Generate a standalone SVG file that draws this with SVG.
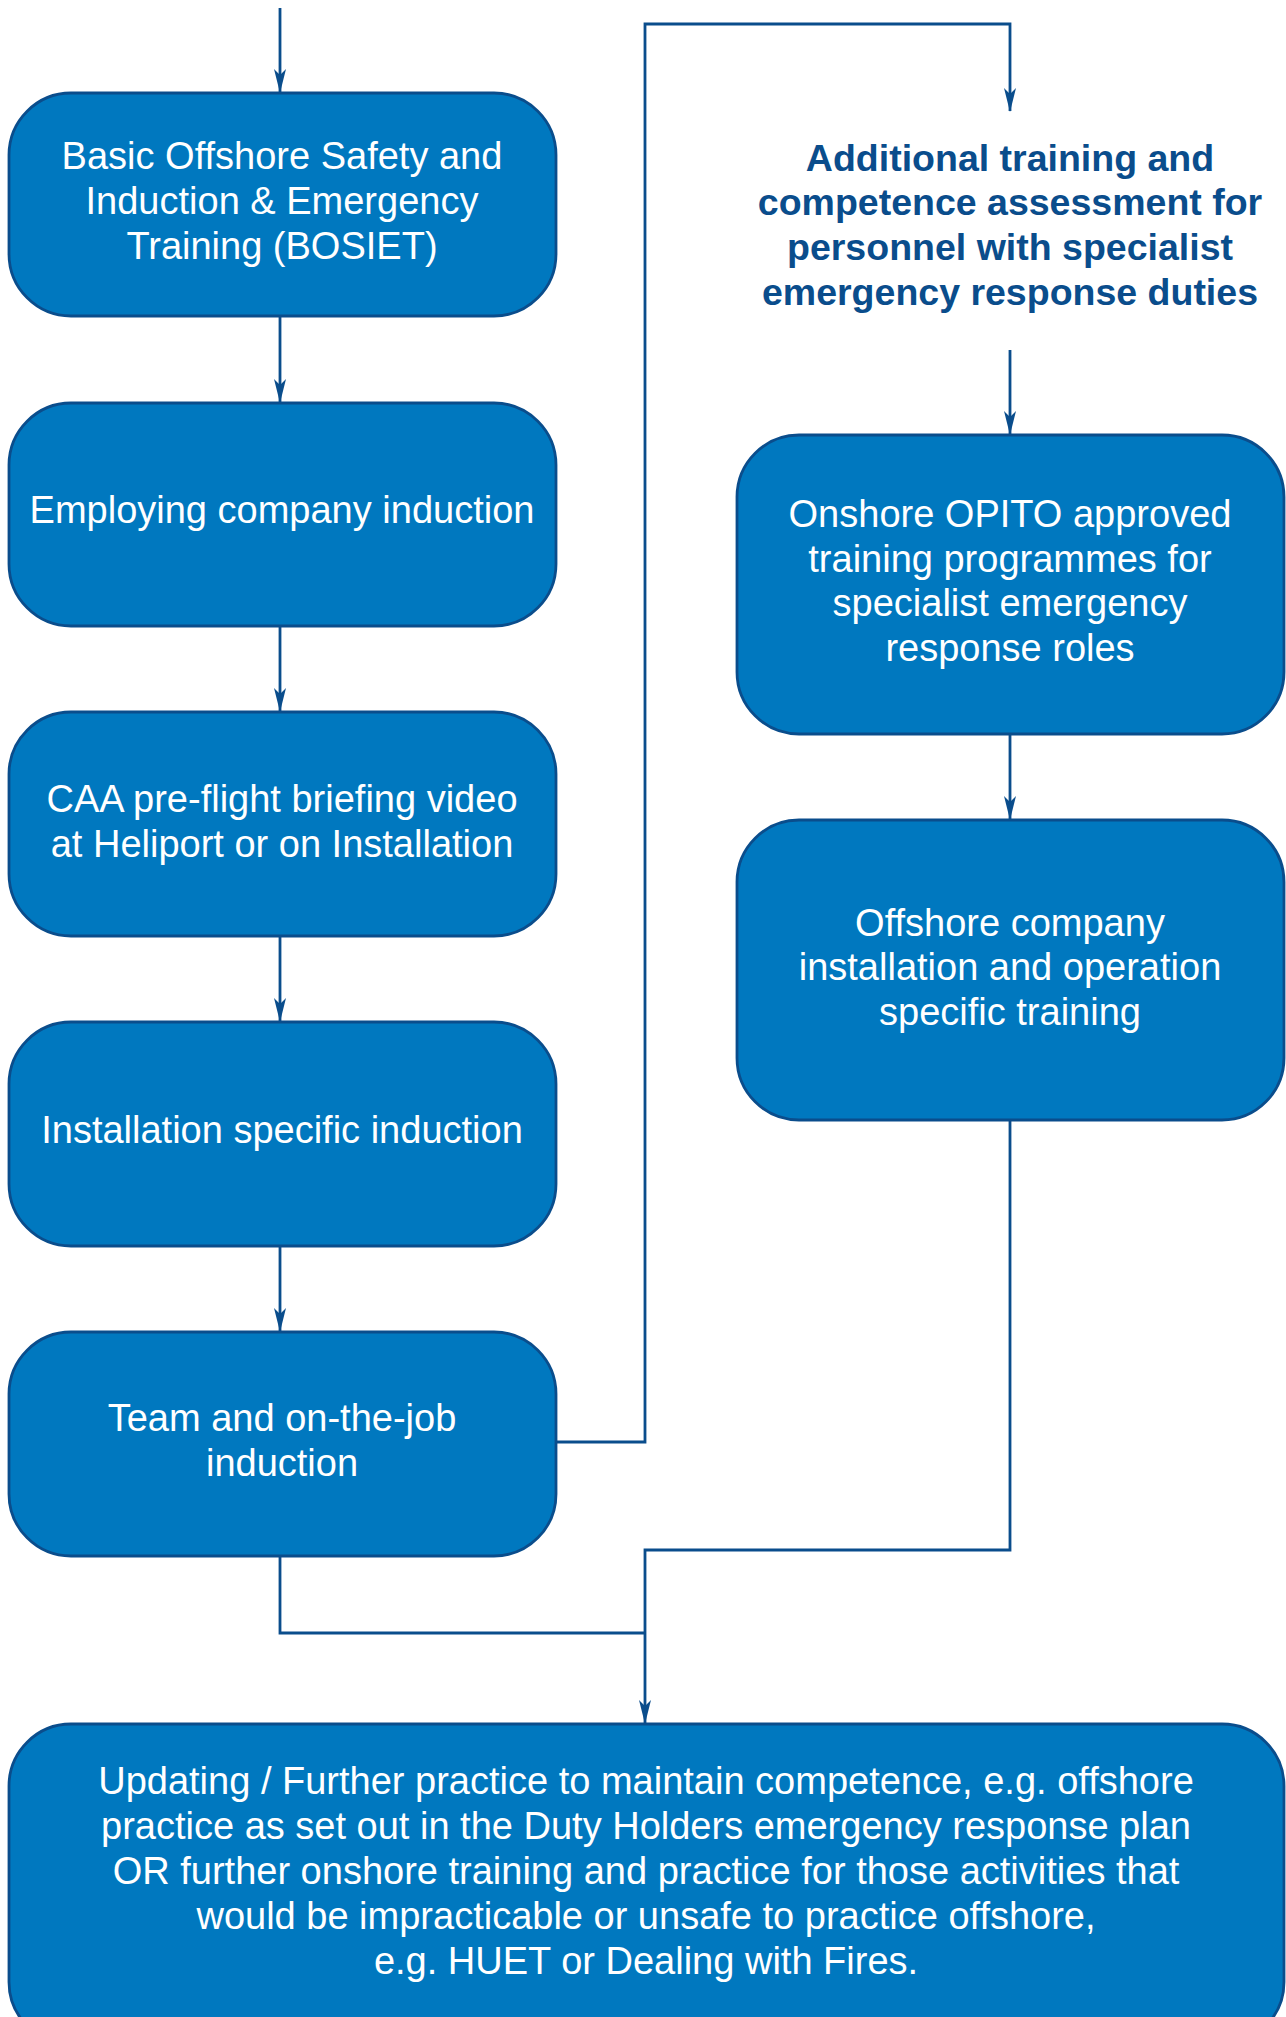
<svg xmlns="http://www.w3.org/2000/svg" width="1286" height="2017" viewBox="0 0 1286 2017">
<defs>
<style>
.box{fill:#0078bf;stroke:#0a4d8c;stroke-width:2.8}
.t{font-family:"Liberation Sans",Arial,sans-serif;font-size:38px;fill:#ffffff;text-anchor:middle}
.h{font-family:"Liberation Sans",Arial,sans-serif;font-size:37.5px;font-weight:bold;fill:#0a4d8c;text-anchor:middle}
.c{fill:none;stroke:#0a4d8c;stroke-width:2.8}
</style>
<marker id="arr" viewBox="-25 -8 27 16" refX="0" refY="0" markerWidth="27" markerHeight="16" markerUnits="userSpaceOnUse" orient="auto">
<path d="M1,0 L-23,-6 L-17,0 L-23,6 Z" fill="#0a4d8c"/>
</marker>
</defs>
<rect width="1286" height="2017" fill="#ffffff"/>
<g id="connectors">
<path class="c" d="M280,8 V92" marker-end="url(#arr)"/>
<path class="c" d="M280,317 V402" marker-end="url(#arr)"/>
<path class="c" d="M280,627 V711" marker-end="url(#arr)"/>
<path class="c" d="M280,937 V1021" marker-end="url(#arr)"/>
<path class="c" d="M280,1247 V1331" marker-end="url(#arr)"/>
<path class="c" d="M556,1442 H645 V24 H1010 V111" marker-end="url(#arr)"/>
<path class="c" d="M1010,350 V434" marker-end="url(#arr)"/>
<path class="c" d="M1010,735 V819" marker-end="url(#arr)"/>
<path class="c" d="M1010,1121 V1550 H645 V1723" marker-end="url(#arr)"/>
<path class="c" d="M280,1557 V1633 H645"/>
</g>
<g id="n1">
<rect class="box" x="9" y="93" width="547" height="223" rx="62"/>
<text class="t" x="282" y="169">Basic Offshore Safety and</text>
<text class="t" x="282" y="214">Induction &amp; Emergency</text>
<text class="t" x="282" y="259">Training (BOSIET)</text>
</g>
<g id="n2">
<rect class="box" x="9" y="403" width="547" height="223" rx="62"/>
<text class="t" x="282" y="523">Employing company induction</text>
</g>
<g id="n3">
<rect class="box" x="9" y="712" width="547" height="224" rx="62"/>
<text class="t" x="282" y="812">CAA pre-flight briefing video</text>
<text class="t" x="282" y="857">at Heliport or on Installation</text>
</g>
<g id="n4">
<rect class="box" x="9" y="1022" width="547" height="224" rx="62"/>
<text class="t" x="282" y="1143">Installation specific induction</text>
</g>
<g id="n5">
<rect class="box" x="9" y="1332" width="547" height="224" rx="62"/>
<text class="t" x="282" y="1431">Team and on-the-job</text>
<text class="t" x="282" y="1476">induction</text>
</g>
<g id="header">
<text class="h" x="1010" y="171">Additional training and</text>
<text class="h" x="1010" y="215">competence assessment for</text>
<text class="h" x="1010" y="260">personnel with specialist</text>
<text class="h" x="1010" y="305">emergency response duties</text>
</g>
<g id="r1">
<rect class="box" x="737" y="435" width="547" height="299" rx="62"/>
<text class="t" x="1010" y="527">Onshore OPITO approved</text>
<text class="t" x="1010" y="572">training programmes for</text>
<text class="t" x="1010" y="616">specialist emergency</text>
<text class="t" x="1010" y="661">response roles</text>
</g>
<g id="r2">
<rect class="box" x="737" y="820" width="547" height="300" rx="62"/>
<text class="t" x="1010" y="936">Offshore company</text>
<text class="t" x="1010" y="980">installation and operation</text>
<text class="t" x="1010" y="1025">specific training</text>
</g>
<g id="bottom">
<rect class="box" x="9" y="1724" width="1275" height="320" rx="62"/>
<text class="t" x="646" y="1794">Updating / Further practice to maintain competence, e.g. offshore</text>
<text class="t" x="646" y="1839">practice as set out in the Duty Holders emergency response plan</text>
<text class="t" x="646" y="1884">OR further onshore training and practice for those activities that</text>
<text class="t" x="646" y="1929">would be impracticable or unsafe to practice offshore,</text>
<text class="t" x="646" y="1974">e.g. HUET or Dealing with Fires.</text>
</g>
</svg>
